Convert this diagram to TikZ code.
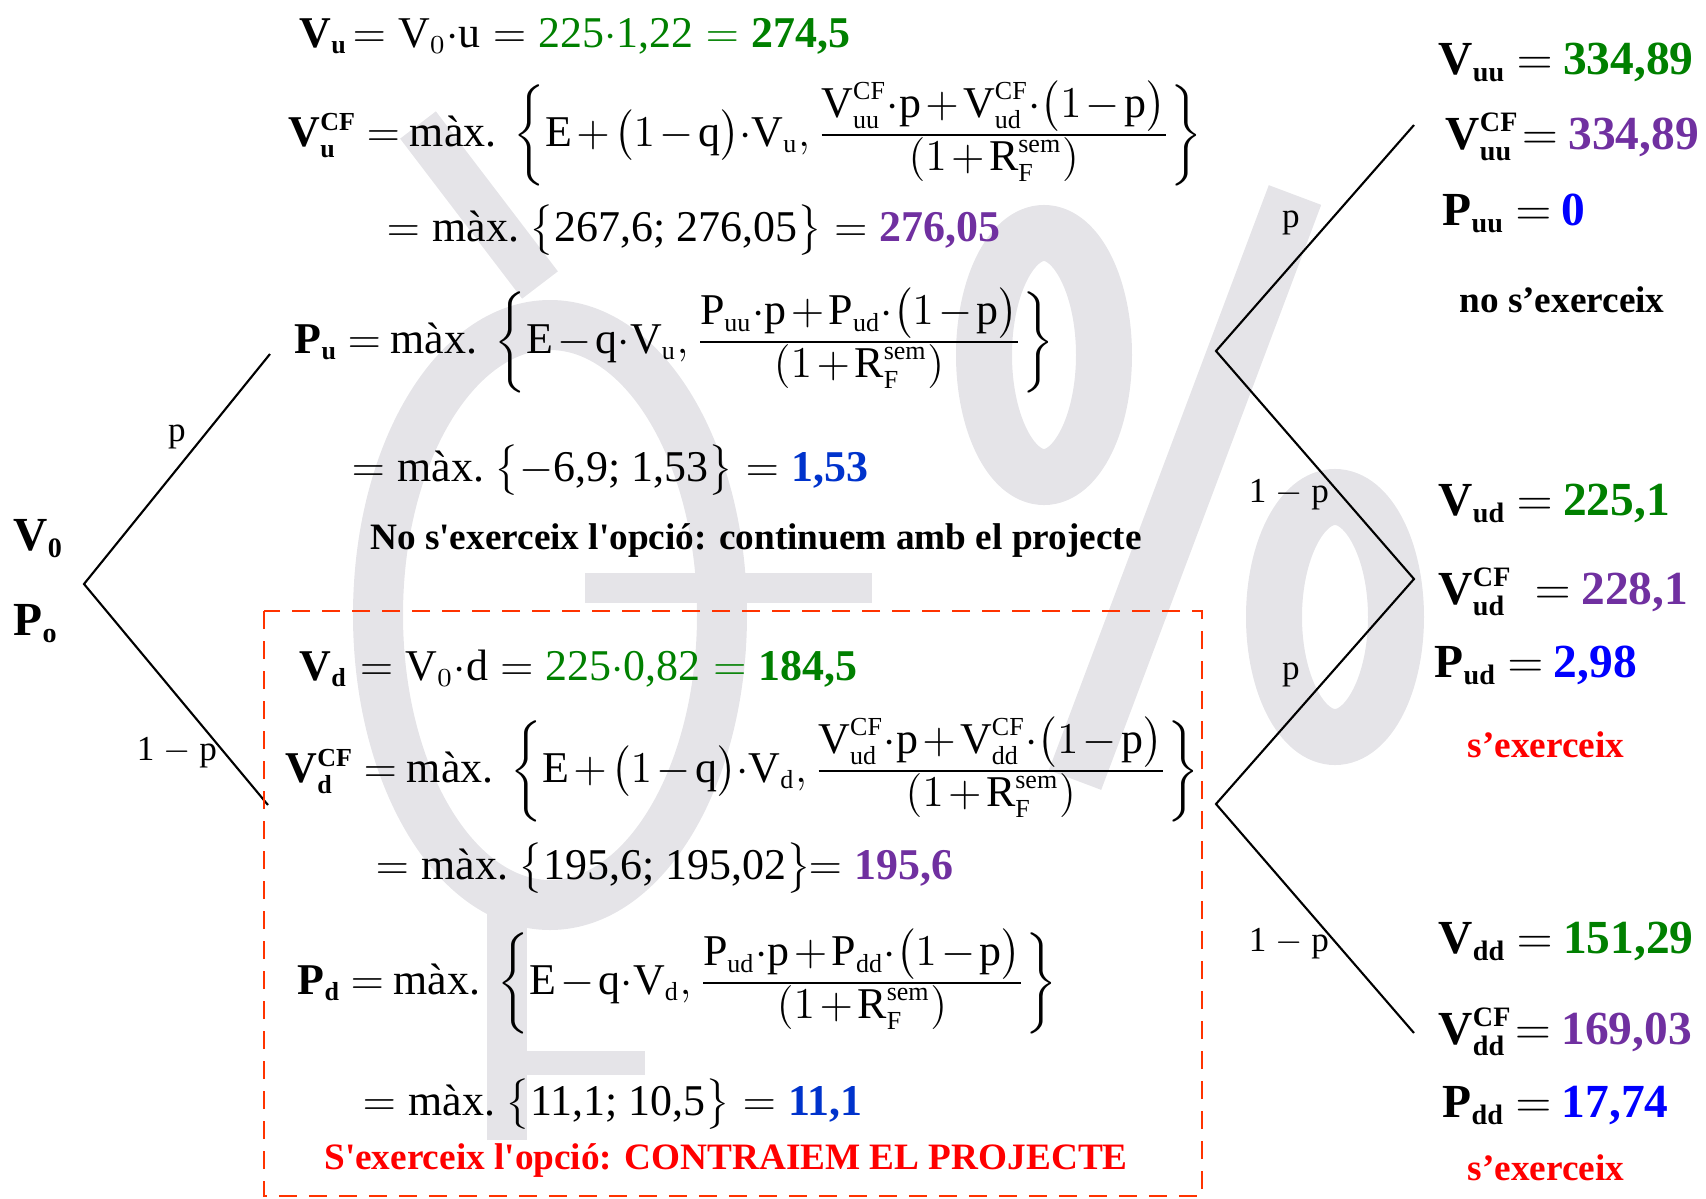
\RequirePackage{fix-cm}
\documentclass[tikz,border=0pt]{standalone}
\usepackage{amsmath}
\usepackage{fontspec}
\setmainfont{Liberation Serif}
\usepackage{tikz}
\usetikzlibrary{positioning}
\definecolor{valgreen}{RGB}{0,128,0}
\definecolor{valpurple}{RGB}{112,48,160}
\definecolor{valblue}{RGB}{0,51,204}
\definecolor{putblue}{RGB}{0,0,255}
\definecolor{alertred}{RGB}{255,0,0}
\definecolor{boxred}{RGB}{255,51,0}
\definecolor{wmgray}{RGB}{229,228,232}
\DeclareMathSizes{12.5}{12.5}{7.4}{5.8}
\DeclareMathSizes{13.5}{13.5}{8}{6}
\newcommand{\mx}{\text{màx.}}
\newcommand{\dt}{\mathord{\cdot}}
\newcommand{\nm}[1]{\text{#1}}
\newcommand{\fr}[2]{{\textstyle\frac{\displaystyle #1}{\displaystyle #2}}}
\tikzset{
  eq/.style={anchor=west,inner sep=0pt,font=\fontsize{12.5}{15}\selectfont,
             execute at begin node={\thickmuskip=4mu\medmuskip=1.8mu}},
  res/.style={eq,anchor=base west,execute at begin node={\thickmuskip=5mu}},
  leaf/.style={anchor=base west,inner sep=0pt,font=\fontsize{13.5}{16}\selectfont,
             execute at begin node={\thickmuskip=4mu}},
  note/.style={anchor=base,inner sep=0pt,font=\fontsize{10.6}{12}\selectfont\bfseries},
  lbl/.style={inner sep=0pt,font=\fontsize{10}{12}\selectfont},
  br/.style={draw=black,line width=0.6pt},
  wm/.style={draw=wmgray,line width=5.6mm},
}

\begin{document}
\begin{tikzpicture}[x=0.1mm,y=-0.1mm]
  \useasboundingbox (0,0) rectangle (1706,1199);
  % watermark
  \draw[wm] (1044,355) ellipse [x radius=60,y radius=122];
  \draw[wm] (1335,617) ellipse [x radius=61,y radius=120];
  \draw[wm] (1295,195) -- (1075,780);
  \draw[wm,line width=5mm] (550,615) ellipse [x radius=172,y radius=290];
  \draw[wm,line width=4.5mm] (418,125) -- (540,285);
  \draw[wm,line width=3mm] (585,588) -- (872,588);
  \draw[wm,line width=4mm] (507,900) -- (507,1140);
  \draw[wm,line width=2.4mm] (520,1063) -- (645,1063);
  % tree
  \coordinate (r0) at (84,584);
  \coordinate (ru) at (270,354);
  \coordinate (rd) at (268,805);
  \coordinate (su) at (1216,351);
  \coordinate (sd) at (1216,804);
  \coordinate (tuu) at (1414,125);
  \coordinate (tud) at (1414,579);
  \coordinate (tdd) at (1414,1033);
  \draw[br] (ru) -- (r0) -- (rd);
  \draw[br] (tuu) -- (su) -- (tud) -- (sd) -- (tdd);
  \node[lbl] (l1) at (177,437) {p};
  \node[lbl] (l2) at (177,753) {1 $-$ p};
  \node[lbl] (l3) at (1291,223) {p};
  \node[lbl] (l4) at (1289,495) {1 $-$ p};
  \node[lbl] (l5) at (1291,675) {p};
  \node[lbl] (l6) at (1289,944) {1 $-$ p};
  % root
  \node[leaf] (v0) at (13,550) {$\mathbf{V}_{\mathbf{0}}$};
  \node[leaf] (p0) at (13,635) {$\mathbf{P}_{\mathbf{o}}$};
  % up node
  \node[res] (vu) at (299,47) {$\mathbf{V}_{\mathbf{u}}\!= \mathrm{V}_0\dt\mathrm{u} = \textcolor{valgreen}{\nm{225}\dt\nm{1,22} = \textbf{274,5}}$};
  \node[eq] (vucf) at (288,133) {$\mathbf{V}_{\mathbf{u}}^{\mathbf{CF}} = \mx\;\left\{\mathrm{E}+\bigl(1-\mathrm{q}\bigr)\dt\mathrm{V}_{\mathrm{u}},\fr{\mathrm{V}_{\mathrm{uu}}^{\mathrm{CF}}\dt\mathrm{p}+\mathrm{V}_{\mathrm{ud}}^{\mathrm{CF}}\dt\bigl(1-\mathrm{p}\bigr)}{(1+\mathrm{R}_{\mathrm{F}}^{\mathrm{sem}})}\right\}$};
  \node[res] (vures) at (386,241) {$= \mx\ \bigl\{\nm{267,6; 276,05}\bigr\} = \textcolor{valpurple}{\textbf{276,05}}$};
  \node[eq] (pu) at (294,340) {$\mathbf{P}_{\mathbf{u}} = \mx\;\left\{\mathrm{E}-\mathrm{q}\dt\mathrm{V}_{\mathrm{u}},\fr{\mathrm{P}_{\mathrm{uu}}\dt\mathrm{p}+\mathrm{P}_{\mathrm{ud}}\dt\bigl(1-\mathrm{p}\bigr)}{(1+\mathrm{R}_{\mathrm{F}}^{\mathrm{sem}})}\right\}$};
  \node[res] (pures) at (351,481) {$= \mx\ \bigl\{-\nm{6,9; 1,53}\bigr\} = \textcolor{valblue}{\textbf{1,53}}$};
  \node[note] (nou) at (756,549) {No s\textquotesingle exerceix l\textquotesingle opció: continuem amb el projecte};
  % down node
  \draw[boxred,line width=0.7pt,dash pattern=on 1.8mm off 1.2mm] (264,611) rectangle (1202,1196);
  \node[res] (vd) at (299,680) {$\mathbf{V}_{\mathbf{d}} = \mathrm{V}_0\dt\mathrm{d} = \textcolor{valgreen}{\nm{225}\dt\nm{0,82} = \textbf{184,5}}$};
  \node[eq] (vdcf) at (285,769) {$\mathbf{V}_{\mathbf{d}}^{\mathbf{CF}} = \mx\;\left\{\mathrm{E}+\bigl(1-\mathrm{q}\bigr)\dt\mathrm{V}_{\mathrm{d}},\fr{\mathrm{V}_{\mathrm{ud}}^{\mathrm{CF}}\dt\mathrm{p}+\mathrm{V}_{\mathrm{dd}}^{\mathrm{CF}}\dt\bigl(1-\mathrm{p}\bigr)}{(1+\mathrm{R}_{\mathrm{F}}^{\mathrm{sem}})}\right\}$};
  \node[res] (vdres) at (375,879) {$= \mx\ \bigl\{\nm{195,6; 195,02}\bigr\}\!\!= \textcolor{valpurple}{\textbf{195,6}}$};
  \node[eq] (pd) at (297,981) {$\mathbf{P}_{\mathbf{d}} = \mx\;\left\{\mathrm{E}-\mathrm{q}\dt\mathrm{V}_{\mathrm{d}},\fr{\mathrm{P}_{\mathrm{ud}}\dt\mathrm{p}+\mathrm{P}_{\mathrm{dd}}\dt\bigl(1-\mathrm{p}\bigr)}{(1+\mathrm{R}_{\mathrm{F}}^{\mathrm{sem}})}\right\}$};
  \node[res] (pdres) at (362,1115) {$= \mx\ \bigl\{\nm{11,1; 10,5}\bigr\} = \textcolor{valblue}{\textbf{11,1}}$};
  \node[note,text=alertred] (exd) at (726,1169) {S\textquotesingle exerceix l\textquotesingle opció: CONTRAIEM EL PROJECTE};
  % leaves
  \node[leaf] (vuu) at (1438,74) {$\mathbf{V}_{\mathbf{uu}} = \textcolor{valgreen}{\textbf{334,89}}$};
  \node[leaf] (vuucf) at (1445,149) {$\mathbf{V}_{\mathbf{uu}}^{\mathbf{CF}}\!= \textcolor{valpurple}{\textbf{334,89}}$};
  \node[leaf] (puu) at (1442,225) {$\mathbf{P}_{\mathbf{uu}} = \textcolor{putblue}{\textbf{0}}$};
  \node[note] (nouu) at (1562,312) {no s’exerceix};
  \node[leaf] (vud) at (1438,515) {$\mathbf{V}_{\mathbf{ud}} = \textcolor{valgreen}{\textbf{225,1}}$};
  \node[leaf] (vudcf) at (1438,604) {$\mathbf{V}_{\mathbf{ud}}^{\mathbf{CF}}\ = \textcolor{valpurple}{\textbf{228,1}}$};
  \node[leaf] (pud) at (1434,677) {$\mathbf{P}_{\mathbf{ud}} = \textcolor{putblue}{\textbf{2,98}}$};
  \node[note,text=alertred] (exud) at (1546,757) {s’exerceix};
  \node[leaf] (vdd) at (1438,953) {$\mathbf{V}_{\mathbf{dd}} = \textcolor{valgreen}{\textbf{151,29}}$};
  \node[leaf] (vddcf) at (1438,1044) {$\mathbf{V}_{\mathbf{dd}}^{\mathbf{CF}}\!= \textcolor{valpurple}{\textbf{169,03}}$};
  \node[leaf] (pdd) at (1442,1117) {$\mathbf{P}_{\mathbf{dd}} = \textcolor{putblue}{\textbf{17,74}}$};
  \node[note,text=alertred] (exdd) at (1546,1180) {s’exerceix};
\end{tikzpicture}
\end{document}
